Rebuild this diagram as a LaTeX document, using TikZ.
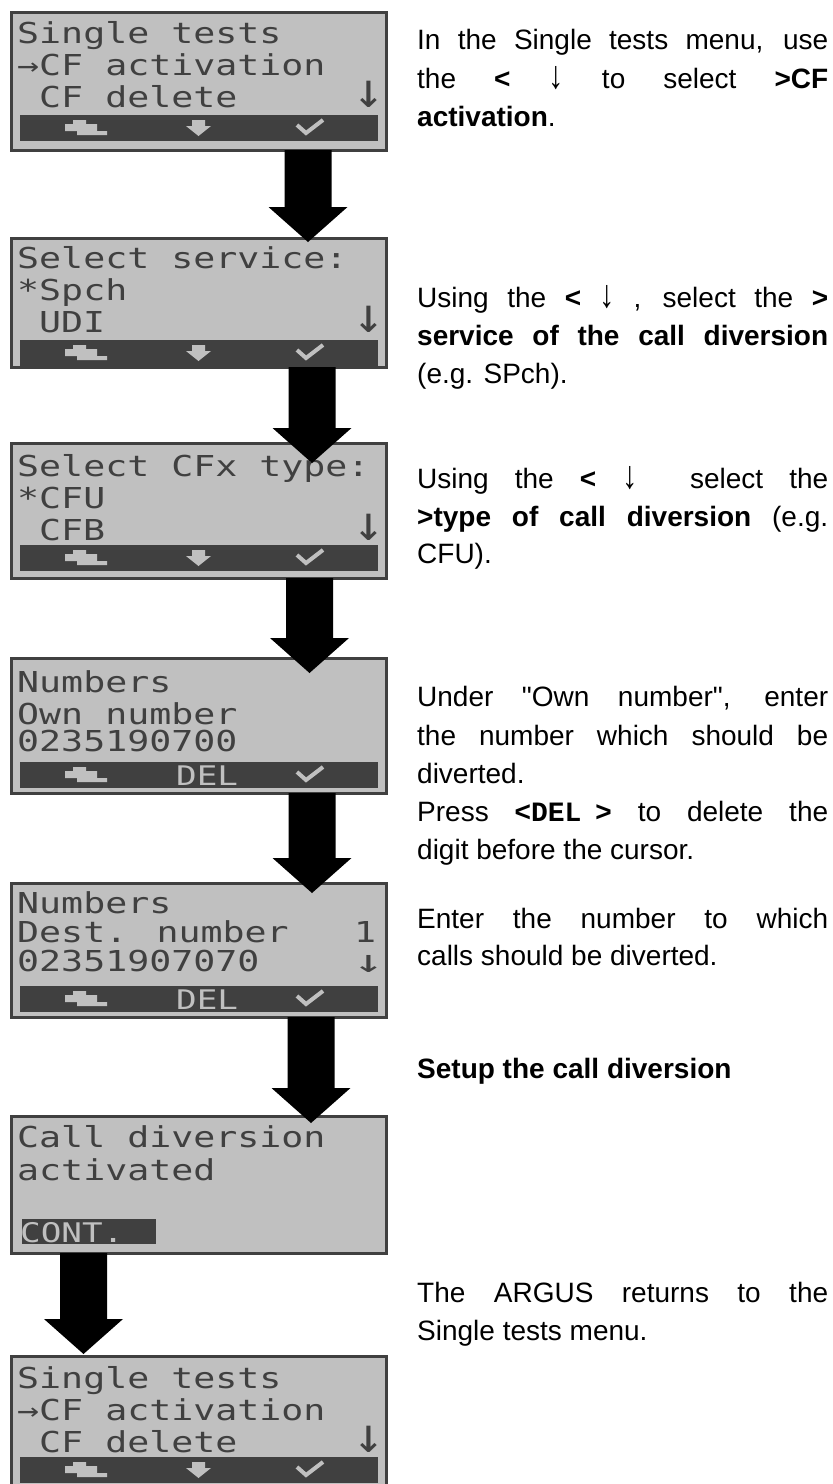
\documentclass[tikz,border=0pt]{standalone}
\usepackage{fontspec}
\setmainfont[Ligatures=TeXOff]{Liberation Sans}
\newfontfamily\lcd[FakeStretch=1.27]{DejaVu Sans Mono}
\newfontfamily\monob{Liberation Mono}
\usetikzlibrary{calc}
\definecolor{lcdbg}{HTML}{C0C0C0}
\definecolor{lcdfg}{HTML}{404040}
% block arrow: #1 shaft start, #2 tip
\newcommand\blockarr[2]{\fill[black] let \p1=#1, \p2=#2 in
  (\x2-23.5pt,\y1) -- (\x2+23.5pt,\y1) -- (\x2+23.5pt,\y2+35pt) -- (\x2+39.5pt,\y2+35pt)
  -- (\x2,\y2) -- (\x2-39.5pt,\y2+35pt) -- (\x2-23.5pt,\y2+35pt) -- cycle;}
\newcommand\retico[1]{\fill[lcdbg] (73,#1+5) -- (86,#1+5) -- (86,#1+9) -- (97,#1+9) -- (97,#1+16)
  -- (107,#1+16) -- (107,#1+20) -- (77,#1+20) -- (77,#1+16) -- (65,#1+16) -- (65,#1+9) -- (73,#1+9) -- cycle;}
\newcommand\downico[1]{\fill[lcdbg] (192,#1+5) -- (205,#1+5) -- (205,#1+11) -- (211,#1+11)
  -- (198.5,#1+21) -- (186,#1+11) -- (192,#1+11) -- cycle;}
\newcommand\checkico[1]{\draw[lcdbg, line width=4pt] (297,#1+10) -- (306,#1+18) -- (323,#1+5);}
\newcommand\barbox[1]{\fill[lcdfg] (20,#1) rectangle (378,#1+26);}
\newcommand\lcdt[4]{\node[lcdtxt] (#1) at ({17+22*#2},#3) {#4};}
\newcommand\lcdarr[2]{\node[lcdtxt] (#1) at (353,#2) {\scalebox{1.4}[1.7]{↓}};}
\newcommand\darr{\scalebox{1.1}[1.4]{↓}}
\newcommand\jl[1]{\makebox[411pt][s]{#1}}
\begin{document}
\begin{tikzpicture}[x=1pt,y=-1pt,
  screen/.style={draw=lcdfg, line width=3pt, fill=lcdbg, minimum width=375pt, anchor=north west, inner sep=0pt},
  lcdtxt/.style={anchor=base west, inner sep=0pt, text=lcdfg, font=\lcd\fontsize{28.8}{32}\selectfont},
  bartxt/.style={anchor=base west, inner sep=0pt, text=lcdbg, font=\lcd\fontsize{27}{30}\selectfont},
  desc/.style={anchor=base west, inner sep=0pt, font=\fontsize{28}{34}\selectfont}]
\fill[white] (0,0) rectangle (833,1484);
\useasboundingbox (0,0) rectangle (833,1484);

% ---------- screens ----------
\node[screen, minimum height=138pt] (s1) at (10,11) {};
\node[screen, minimum height=129pt] (s2) at (10,237) {};
\node[screen, minimum height=135pt] (s3) at (10,442) {};
\node[screen, minimum height=135pt] (s4) at (10,657) {};
\node[screen, minimum height=134pt] (s5) at (10,882) {};
\node[screen, minimum height=137pt] (s6) at (10,1115) {};
\node[screen, minimum height=129pt] (s7) at (10,1355) {};

% screen 1
\lcdt{s1a}{0}{43}{Single tests}
\lcdt{s1b}{0}{75}{→CF activation}
\lcdt{s1c}{1}{107}{CF delete}
\lcdarr{s1d}{107}
\barbox{115}\retico{115}\downico{115}\checkico{115}

% screen 2
\lcdt{s2a}{0}{268}{Select service:}
\lcdt{s2b}{0}{300}{*Spch}
\lcdt{s2c}{1}{332}{UDI}
\lcdarr{s2d}{332}
\barbox{340}\retico{340}\downico{340}\checkico{340}

% screen 3
\lcdt{s3a}{0}{476}{Select CFx type:}
\lcdt{s3b}{0}{508}{*CFU}
\lcdt{s3c}{1}{540}{CFB}
\lcdarr{s3d}{540}
\barbox{545}\retico{545}\downico{545}\checkico{545}

% screen 4
\lcdt{s4a}{0}{692}{Numbers}
\lcdt{s4b}{0}{724}{Own number}
\lcdt{s4c}{0}{751}{0235190700}
\barbox{762}\retico{762}\checkico{762}
\node[bartxt] (s4del) at (176,785) {DEL};

% screen 5
\lcdt{s5a}{0}{913}{Numbers}
\lcdt{s5b}{0}{942}{Dest. number}
\node[lcdtxt] (s5e) at (354,942) {1};
\lcdt{s5c}{0}{971}{02351907070}
\node[lcdtxt] (s5d) at (353,972) {\scalebox{1.4}[1.1]{↓}};
\barbox{986}\retico{986}\checkico{986}
\node[bartxt] (s5del) at (176,1009) {DEL};

% screen 6
\lcdt{s6a}{0}{1147}{Call diversion}
\lcdt{s6b}{0}{1180}{activated}
\fill[lcdfg] (22,1219) rectangle (156,1244);
\node[bartxt] (s6cont) at (20,1242) {CONT.};

% screen 7
\lcdt{s7a}{0}{1388}{Single tests}
\lcdt{s7b}{0}{1420}{→CF activation}
\lcdt{s7c}{1}{1452}{CF delete}
\lcdarr{s7d}{1452}
\barbox{1457}\retico{1457}\downico{1457}\checkico{1457}

% ---------- arrows ----------
\blockarr{([yshift=2pt]s1.south west)}{([xshift=298pt,yshift=-5pt]s2.north west)}
\blockarr{([yshift=2pt]s2.south west)}{([xshift=302pt,yshift=-21pt]s3.north west)}
\blockarr{([yshift=2pt]s3.south west)}{([xshift=299.5pt,yshift=-16pt]s4.north west)}
\blockarr{([yshift=2pt]s4.south west)}{([xshift=302pt,yshift=-11pt]s5.north west)}
\blockarr{([yshift=2pt]s5.south west)}{([xshift=301pt,yshift=-8pt]s6.north west)}
\blockarr{([yshift=2pt]s6.south west)}{([xshift=73.5pt,yshift=1pt]s7.north west)}

% ---------- descriptions ----------
\node[desc] (d1a) at (417,49) {\jl{In the Single tests menu, use}};
\node[desc] (d1b) at (417,88) {\jl{the \textbf{<} \darr{} to select \textbf{>CF}}};
\node[desc] (d1c) at (417,126) {\textbf{activation}.};

\node[desc] (d2a) at (417,307) {\jl{Using the \textbf{<} \darr{} , select the \textbf{>}}};
\node[desc] (d2b) at (417,345) {\jl{\textbf{service of the call diversion}}};
\node[desc] (d2c) at (417,383) {(e.g. SPch).};

\node[desc] (d3a) at (417,488) {\jl{Using the \textbf{<} \darr{} \ select the}};
\node[desc] (d3b) at (417,526) {\jl{\textbf{>type of call diversion} (e.g.}};
\node[desc] (d3c) at (417,563) {CFU).};

\node[desc] (d4a) at (417,706) {\jl{Under "Own number", enter}};
\node[desc] (d4b) at (417,745) {\jl{the number which should be}};
\node[desc] (d4c) at (417,783) {diverted.};
\node[desc] (d4d) at (417,821) {\jl{Press \textbf{<}{\monob\bfseries DEL}\kern14pt\textbf{>} to delete the}};
\node[desc] (d4e) at (417,859) {digit before the cursor.};

\node[desc] (d5a) at (417,928) {\jl{Enter the number to which}};
\node[desc] (d5b) at (417,965) {calls should be diverted.};

\node[desc] (d6a) at (417,1078) {\textbf{Setup the call diversion}};

\node[desc] (d7a) at (417,1302) {\jl{The ARGUS returns to the}};
\node[desc] (d7b) at (417,1340) {Single tests menu.};
\end{tikzpicture}
\end{document}
